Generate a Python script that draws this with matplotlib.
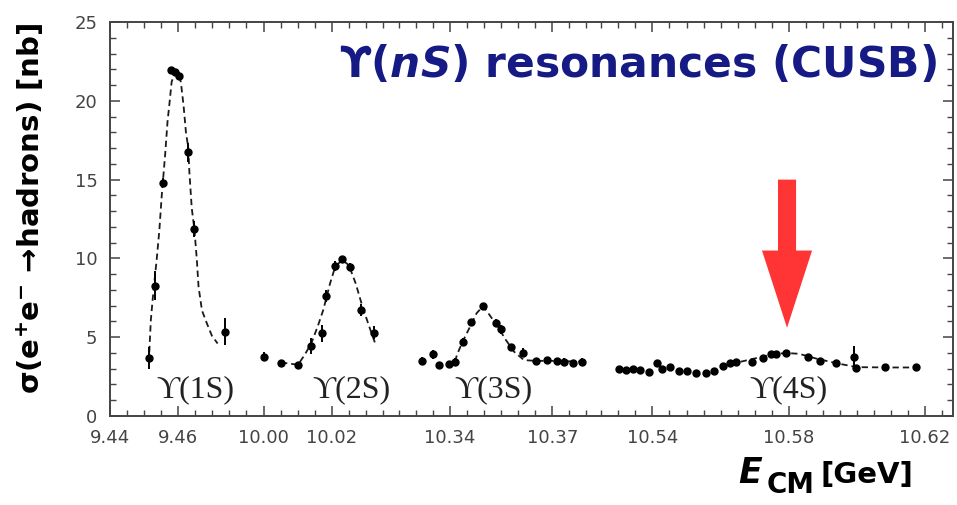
import matplotlib.pyplot as plt
from matplotlib.gridspec import GridSpec
from matplotlib.ticker import FixedLocator, MultipleLocator

plt.rcParams['mathtext.fontset'] = 'custom'
plt.rcParams['mathtext.rm'] = 'DejaVu Sans:bold'
plt.rcParams['mathtext.it'] = 'DejaVu Sans:italic:bold'
plt.rcParams['mathtext.bf'] = 'DejaVu Sans:bold'

# energy windows of the four scans [GeV] and their labelled ticks
x_ranges = [(9.4400, 9.4824), (9.9973, 10.0397), (10.3250, 10.3838), (10.5244, 10.6282)]
x_major = [[9.44, 9.46], [10.00, 10.02], [10.34, 10.37], [10.54, 10.58, 10.62]]
res_names = ['\u03d2(1S)', '\u03d2(2S)', '\u03d2(3S)', '\u03d2(4S)']
res_name_x = [9.4650, 10.0257, 10.3527, 10.5800]

# Y(1S)
e1 = [9.4516, 9.4532, 9.4557, 9.4580, 9.4590, 9.4603, 9.4630, 9.4648, 9.4738]
s1 = [3.70, 8.27, 14.80, 21.95, 21.80, 21.60, 16.73, 11.85, 5.35]
d1 = [0.70, 0.90, 0.30, 0.20, 0.20, 0.20, 0.60, 0.50, 0.85]
fit1_e = [9.4514, 9.4520, 9.4527, 9.4537, 9.4545, 9.4552, 9.4562, 9.4569, 9.4574,
          9.4581, 9.4591, 9.4600, 9.4608, 9.4616, 9.4623, 9.4630, 9.4633, 9.4640,
          9.4648, 9.4655, 9.4660, 9.4670, 9.4684, 9.4699, 9.4716]
fit1_s = [3.4, 6.1, 7.8, 9.9, 11.8, 14.0, 16.6, 18.7, 19.7, 21.2, 21.85, 21.7, 21.2,
          19.7, 18.0, 17.0, 15.5, 13.2, 11.8, 9.9, 8.2, 6.7, 5.9, 5.1, 4.6]

# Y(2S)
e2 = [10.0001, 10.0051, 10.0101, 10.0138, 10.0170, 10.0182, 10.0210, 10.0230,
      10.0252, 10.0285, 10.0324]
s2 = [3.76, 3.38, 3.24, 4.44, 5.25, 7.61, 9.52, 9.94, 9.47, 6.73, 5.29]
d2 = [0.30, 0.20, 0.20, 0.50, 0.55, 0.40, 0.30, 0.20, 0.25, 0.40, 0.40]
fit2_e = [10.0051, 10.0101, 10.0120, 10.0140, 10.0160, 10.0175, 10.0195, 10.0210,
          10.0230, 10.0250, 10.0270, 10.0290, 10.0310, 10.0329]
fit2_s = [3.40, 3.25, 3.87, 4.61, 5.77, 6.73, 8.42, 9.47, 9.90, 9.58, 8.42, 6.94,
          5.67, 4.51]

# Y(3S)
e3 = [10.3317, 10.3350, 10.3369, 10.3396, 10.3414, 10.3437, 10.3461, 10.3497,
      10.3536, 10.3550, 10.3579, 10.3615, 10.3651, 10.3685, 10.3714, 10.3735,
      10.3761, 10.3786]
s3 = [3.51, 3.91, 3.24, 3.30, 3.45, 4.72, 5.98, 6.98, 5.88, 5.50, 4.40, 4.02,
      3.51, 3.55, 3.51, 3.45, 3.38, 3.45]
d3 = [0.25, 0.30, 0.20, 0.20, 0.25, 0.20, 0.20, 0.20, 0.25, 0.30, 0.20, 0.30,
      0.20, 0.20, 0.20, 0.20, 0.20, 0.20]
fit3_e = [10.3415, 10.3420, 10.3437, 10.3454, 10.3478, 10.3497, 10.3516, 10.3540,
          10.3564, 10.3588, 10.3617, 10.3650, 10.3700, 10.3786]
fit3_s = [3.45, 3.87, 4.72, 5.46, 6.52, 6.98, 6.41, 5.67, 4.82, 4.08, 3.55, 3.50,
          3.50, 3.45]

# Y(4S)
e4 = [10.5303, 10.5323, 10.5342, 10.5364, 10.5389, 10.5413, 10.5429, 10.5452,
      10.5479, 10.5501, 10.5529, 10.5558, 10.5582, 10.5607, 10.5629, 10.5646,
      10.5693, 10.5723, 10.5749, 10.5764, 10.5793, 10.5857, 10.5891, 10.5940,
      10.5992, 10.5997, 10.6082, 10.6174]
s4 = [2.96, 2.92, 2.96, 2.92, 2.81, 3.34, 2.96, 3.09, 2.88, 2.88, 2.71, 2.75,
      2.88, 3.17, 3.34, 3.45, 3.45, 3.66, 3.93, 3.93, 4.02, 3.76, 3.51, 3.38,
      3.76, 3.03, 3.09, 3.09]
d4 = [0.15, 0.15, 0.15, 0.15, 0.15, 0.20, 0.15, 0.15, 0.15, 0.15, 0.15, 0.15,
      0.15, 0.15, 0.15, 0.15, 0.15, 0.15, 0.15, 0.15, 0.15, 0.15, 0.15, 0.15,
      0.70, 0.15, 0.15, 0.15]
fit4_e = [10.5600, 10.5650, 10.5700, 10.5750, 10.5790, 10.5830, 10.5880, 10.5940,
          10.6000, 10.6100, 10.6180]
fit4_s = [3.15, 3.40, 3.65, 3.90, 4.00, 3.95, 3.65, 3.35, 3.10, 3.08, 3.08]

scans = [(e1, s1, d1, fit1_e, fit1_s), (e2, s2, d2, fit2_e, fit2_s),
         (e3, s3, d3, fit3_e, fit3_s), (e4, s4, d4, fit4_e, fit4_s)]

fig = plt.figure(figsize=(9.57, 5.05), dpi=100)
gs = GridSpec(1, 4, figure=fig, width_ratios=[b - a for a, b in x_ranges],
              left=0.1149, right=0.9958, bottom=0.1762, top=0.9564, wspace=0)

axes = []
for i, (e, s, d, fe, fs) in enumerate(scans):
    ax = fig.add_subplot(gs[0, i], sharey=axes[0] if axes else None)
    axes.append(ax)
    ax.plot(fe, fs, color='#1a1a1a', lw=1.3, ls=(0, (3.5, 2.2)))
    ax.errorbar(e, s, yerr=d, fmt='o', color='black', ms=5, elinewidth=1.4,
                capsize=0)
    ax.text(res_name_x[i], 1.65, res_names[i], ha='center', va='center',
            fontsize=23, color='#222222',
            family=['Liberation Serif', 'DejaVu Serif'])

    ax.set_xlim(*x_ranges[i])
    ax.set_ylim(0, 25)
    ax.xaxis.set_major_locator(FixedLocator(x_major[i]))
    ax.xaxis.set_minor_locator(MultipleLocator(0.005))
    ax.xaxis.set_major_formatter(lambda v, p: f'{v:.2f}')
    ax.yaxis.set_major_locator(MultipleLocator(5))
    ax.yaxis.set_minor_locator(MultipleLocator(1))
    ax.tick_params(which='both', direction='in', top=True, colors='#444444',
                   labelsize=13, pad=9)
    ax.tick_params(which='major', length=7, width=1.1)
    ax.tick_params(which='minor', length=4, width=1.0)
    ax.tick_params(axis='y', left=(i == 0), right=(i == 3),
                   labelleft=(i == 0), labelright=False, which='both')
    for side, sp in ax.spines.items():
        sp.set_color('#444444')
        sp.set_linewidth(1.4)
    if i > 0:
        ax.spines['left'].set_visible(False)
    if i < 3:
        ax.spines['right'].set_visible(False)

# arrow pointing at the Y(4S)
axes[3].arrow(10.5795, 15.0, 0, -9.4, width=0.0053, head_width=0.0147,
              head_length=4.9, length_includes_head=True, color='#ff3535', lw=0)

fig.text(0.979, 0.871, '\u03d2($nS$) resonances (CUSB)', ha='right', va='center',
         fontsize=30.5, fontweight='bold', color='#161a85')
fig.text(0.031, 0.588, 'σ(e$^{+}$e$^{-}$ →hadrons) [nb]', rotation=90,
         ha='center', va='center', fontsize=21, fontweight='bold', color='black')

# x-axis label: italic E, large CM subscript, then the unit
fig.text(738 / 957, 0.044, 'E', ha='left', va='baseline', fontsize=25,
         fontweight='bold', fontstyle='italic', color='black')
fig.text(767 / 957, 0.024, 'CM', ha='left', va='baseline', fontsize=20,
         fontweight='bold', color='black')
fig.text(913 / 957, 0.044, '[GeV]', ha='right', va='baseline', fontsize=21,
         fontweight='bold', color='black')

fig.savefig('out.png', dpi=100)
